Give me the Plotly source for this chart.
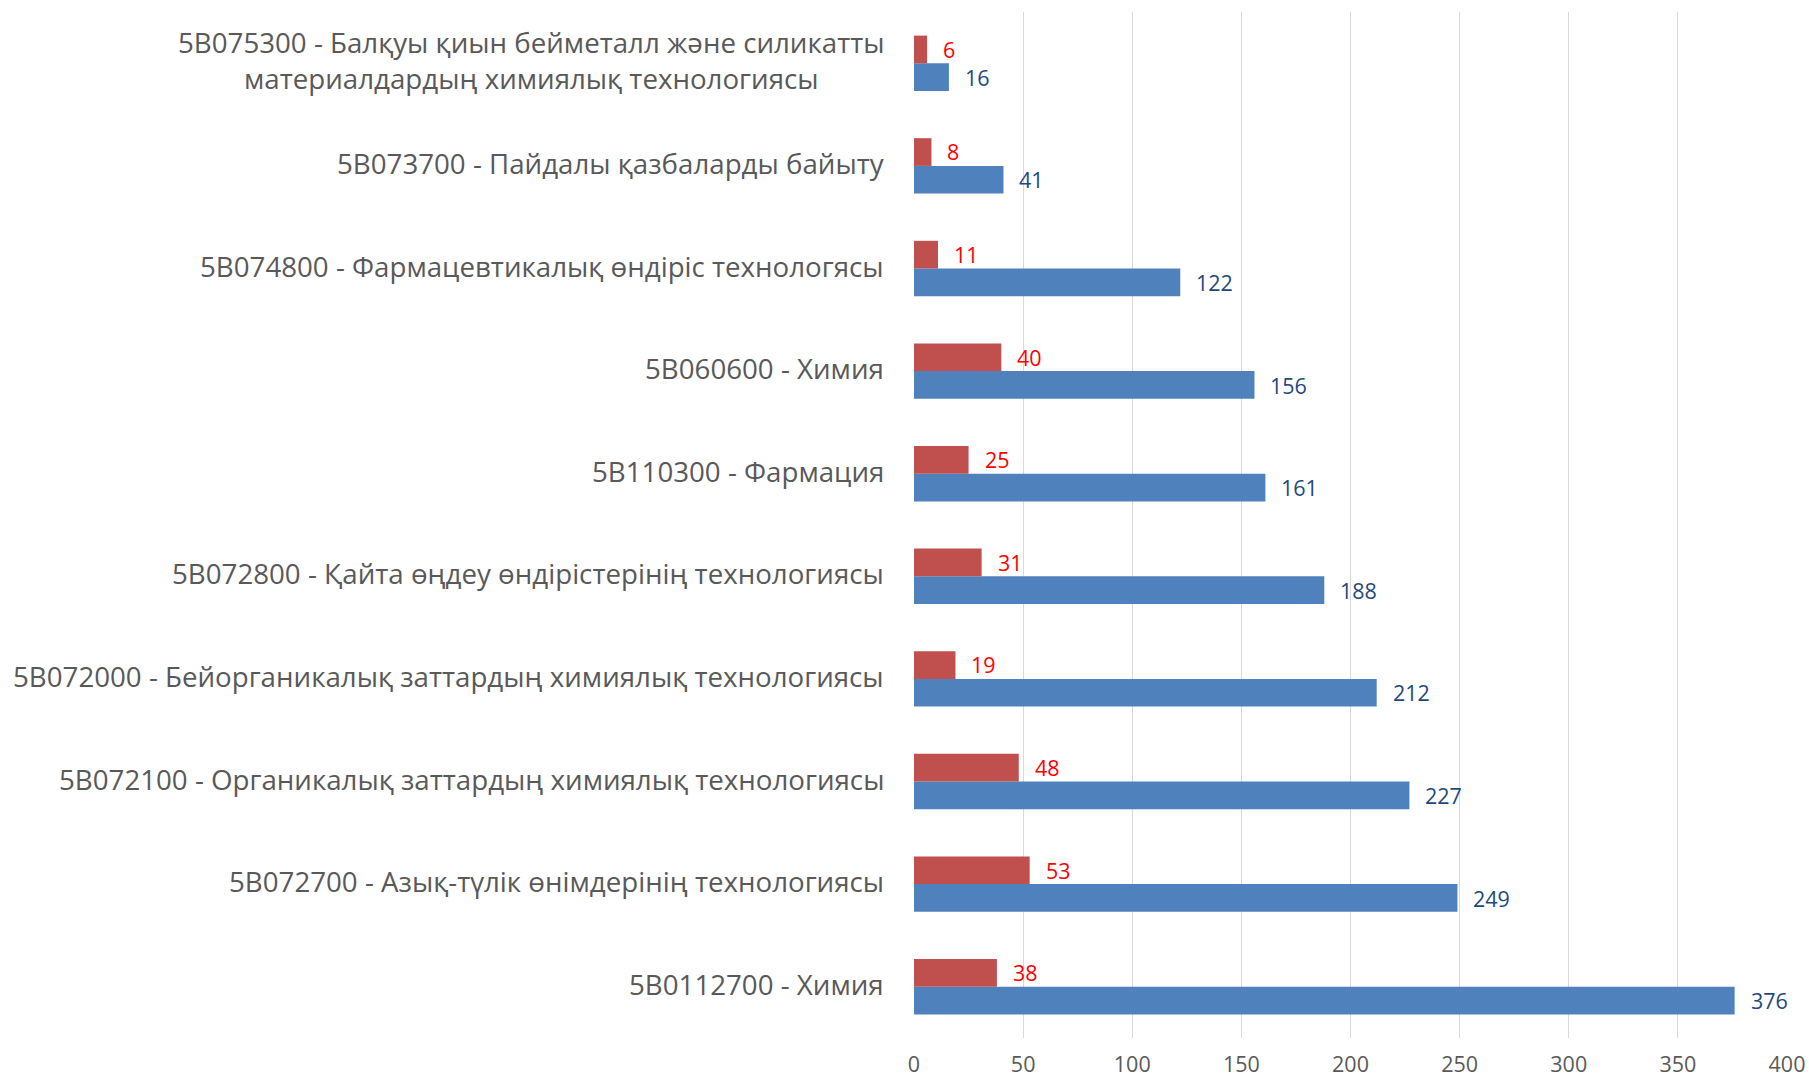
import plotly.graph_objects as go

categories = [
    "5B0112700 - Химия",
    "5B072700 - Азық-түлік өнімдерінің технологиясы",
    "5B072100 - Органикалық заттардың химиялық технологиясы",
    "5B072000 - Бейорганикалық заттардың химиялық технологиясы",
    "5B072800 - Қайта өңдеу өндірістерінің технологиясы",
    "5B110300 - Фармация",
    "5B060600 - Химия",
    "5B074800 - Фармацевтикалық өндіріс технологясы",
    "5B073700 - Пайдалы қазбаларды байыту",
    "5B075300 - Балқуы қиын бейметалл және силикатты<br>материалдардың химиялық технологиясы",
]
blue_values = [376, 249, 227, 212, 188, 161, 156, 122, 41, 16]
red_values = [38, 53, 48, 19, 31, 25, 40, 11, 8, 6]
x_ticks = [0, 50, 100, 150, 200, 250, 300, 350, 400]

FONT = "Open Sans"
fig = go.Figure()
fig.add_trace(go.Bar(y=categories, x=blue_values, orientation="h",
                     marker=dict(color="#4F81BD", line=dict(width=0)), name="blue"))
fig.add_trace(go.Bar(y=categories, x=red_values, orientation="h",
                     marker=dict(color="#C0504D", line=dict(width=0)), name="red"))

ann = []
for c, v in zip(categories, blue_values):
    ann.append(dict(x=v, y=c, xref="x", yref="y", text=str(v), showarrow=False,
                    xanchor="left", yanchor="middle", xshift=14, yshift=-14,
                    font=dict(family=FONT, size=21.5, color="#1F497D")))
for c, v in zip(categories, red_values):
    ann.append(dict(x=v, y=c, xref="x", yref="y", text=str(v), showarrow=False,
                    xanchor="left", yanchor="middle", xshift=14, yshift=14,
                    font=dict(family=FONT, size=21.5, color="#FF0000")))
for c in categories:
    ann.append(dict(x=0, y=c, xref="paper", yref="y", text=c, showarrow=False,
                    xanchor="right", yanchor="middle", xshift=-28, yshift=3, align="center",
                    font=dict(family=FONT, size=27.7, color="#595959")))

fig.update_layout(
    width=1809, height=1080,
    margin=dict(l=914, r=22, t=12, b=42),
    plot_bgcolor="white", paper_bgcolor="white",
    barmode="group", bargap=0.46, bargroupgap=0,
    showlegend=False,
    annotations=ann,
    xaxis=dict(range=[0, 400], tickvals=x_ticks, showgrid=True, gridcolor="#D9D9D9",
               gridwidth=1.3, zeroline=False, showline=False, ticks="",
               automargin=False, ticklabeloverflow="allow",
               tickfont=dict(family=FONT, size=21.5, color="#595959"),
               ticklabelstandoff=11),
    yaxis=dict(showticklabels=False, showgrid=False, zeroline=False, showline=False,
               automargin=False,
               ticks="", categoryorder="array", categoryarray=categories),
)
fig.write_html("out.html", config={"displayModeBar": False},
               post_script="document.body.style.margin='0';document.body.style.overflow='hidden';")
